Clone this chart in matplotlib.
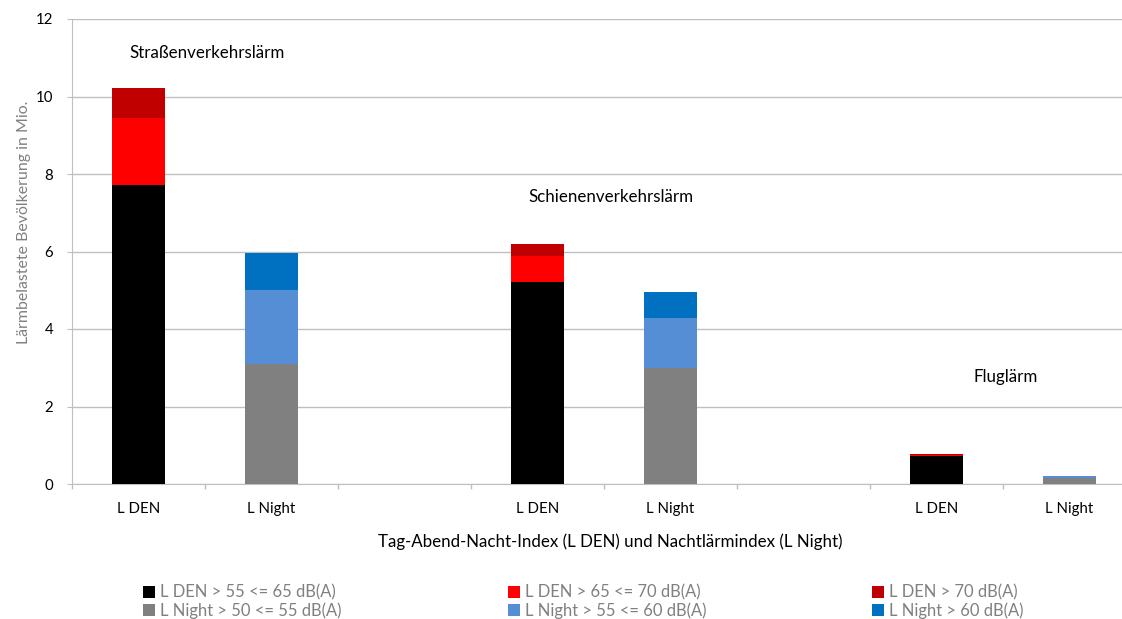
import numpy as np
import matplotlib.pyplot as plt

# Daten (Mio. Betroffene) je Kategorie-Slot, leere Slots trennen die Lärmarten
kategorien = ['L DEN', 'L Night', '', 'L DEN', 'L Night', '', 'L DEN', 'L Night']
den_55_65 = [7.72, 0, 0, 5.21, 0, 0, 0.73, 0]
den_65_70 = [1.73, 0, 0, 0.67, 0, 0, 0.03, 0]
den_70 = [0.77, 0, 0, 0.31, 0, 0, 0.02, 0]
night_50_55 = [0, 3.10, 0, 0, 2.99, 0, 0, 0.15]
night_55_60 = [0, 1.90, 0, 0, 1.29, 0, 0, 0.05]
night_60 = [0, 0.97, 0, 0, 0.67, 0, 0, 0.01]

serien = [
    ('L DEN > 55 <= 65 dB(A)', den_55_65, '#000000'),
    ('L DEN > 65 <= 70 dB(A)', den_65_70, '#ff0000'),
    ('L DEN > 70 dB(A)', den_70, '#c00000'),
    ('L Night > 50 <= 55 dB(A)', night_50_55, '#808080'),
    ('L Night > 55 <= 60 dB(A)', night_55_60, '#558ed5'),
    ('L Night > 60 dB(A)', night_60, '#0070c0'),
]

laermarten = ['Straßenverkehrslärm', 'Schienenverkehrslärm', 'Fluglärm']
titel_x = 'Tag-Abend-Nacht-Index (L DEN) und Nachtlärmindex (L Night)'
titel_y = 'Lärmbelastete Bevölkerung in Mio.'

plt.rcParams['font.family'] = ['Lato', 'DejaVu Sans']

fig = plt.figure(figsize=(11.22, 6.19), dpi=100)
renderer = fig.canvas.get_renderer()


def groesse(text, breite_px, basis=11):
    # Schriftgröße so wählen, dass der Text etwa die Breite im Original hat
    t = fig.text(0, 0, text, fontsize=basis)
    w = t.get_window_extent(renderer).width
    t.remove()
    return basis * breite_px / w


gr_anno = groesse(laermarten[1], 164)
gr_xtitel = groesse(titel_x, 465)
gr_ytitel = groesse(titel_y, 243)
gr_leg = groesse('L Night > 50 <= 55 dB(A)', 181)
gr_tick = groesse('L DEN', 43)

# Achse läuft rechts über den Bildrand hinaus (wie im Original)
ax = fig.add_axes([72 / 1122, 135 / 619, 1064 / 1122, 465 / 619])

x = np.arange(len(kategorien))
unten = np.zeros(len(kategorien))
handles = {}
for name, werte, farbe in serien:
    werte = np.array(werte)
    b = ax.bar(x, werte, width=0.4, bottom=unten, color=farbe, label=name,
               edgecolor='none', zorder=3)
    handles[name] = b
    unten = unten + werte

ax.set_xlim(-0.5, 7.5)
ax.set_ylim(0, 12)
ax.set_yticks(np.arange(0, 13, 2))
ax.set_xticks(x)
ax.set_xticklabels(kategorien, fontsize=gr_tick)
ax.set_xticks(np.arange(-0.5, 7.6, 1), minor=True)
ax.tick_params(axis='x', which='major', length=0, pad=13)
ax.tick_params(axis='x', which='minor', length=3.6, color='#bfbfbf', width=1)
ax.tick_params(axis='y', length=3.6, color='#bfbfbf', labelsize=gr_tick, pad=10)

ax.grid(axis='y', color='#bfbfbf', linewidth=1, zorder=0)
for s in ['top', 'right']:
    ax.spines[s].set_visible(False)
ax.spines['left'].set_color('#bfbfbf')
ax.spines['bottom'].set_color('#bfbfbf')

fig.text(24 / 1122, 1 - 222 / 619, titel_y, rotation=90, color='#808080',
         fontsize=gr_ytitel, ha='center', va='center')
fig.text(610 / 1122, 1 - 542 / 619, titel_x, fontsize=gr_xtitel,
         ha='center', va='center')

# Beschriftung der Lärmarten
ax.text(0.515, 11.12, laermarten[0], fontsize=gr_anno, ha='center', va='center')
ax.text(3.553, 7.41, laermarten[1], fontsize=gr_anno, ha='center', va='center')
ax.text(6.52, 2.76, laermarten[2], fontsize=gr_anno, ha='center', va='center')

# Legende: 3 Spalten mit je 2 Einträgen
spalten_x = [143, 508, 872]
for i, sx in enumerate(spalten_x):
    h = [handles[serien[i][0]], handles[serien[i + 3][0]]]
    l = [serien[i][0], serien[i + 3][0]]
    fig.legend(h, l, loc='center left', bbox_to_anchor=(sx / 1122, 1 - 601.5 / 619),
               frameon=False, fontsize=gr_leg, labelcolor='#808080',
               handlelength=0.73, handleheight=0.73, handletextpad=0.27,
               labelspacing=0.1, borderpad=0, borderaxespad=0)

plt.savefig('out.png', dpi=100)
